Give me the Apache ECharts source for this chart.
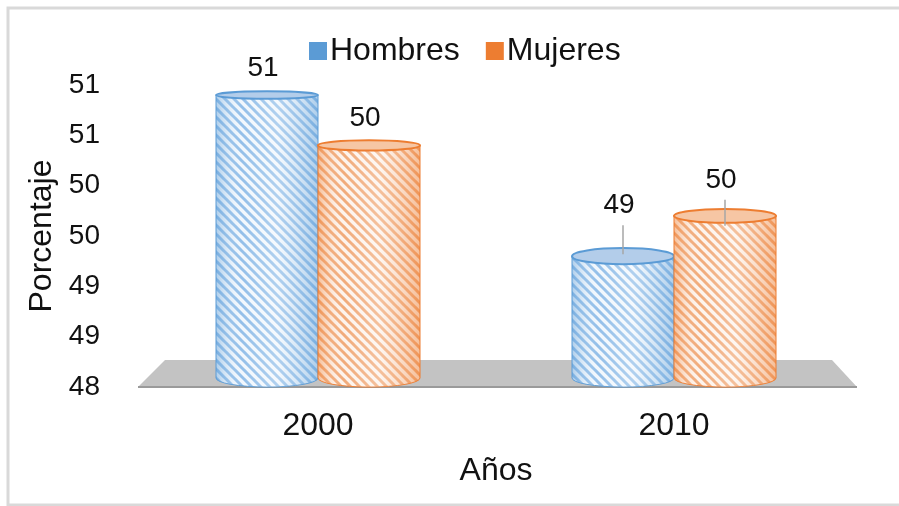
<!DOCTYPE html>
<html>
<head>
<meta charset="utf-8">
<script src="https://cdn.jsdelivr.net/npm/echarts@6/dist/echarts.min.js"></script>
<style>
  html, body { margin: 0; padding: 0; background: #fff; }
  #chart { width: 899px; height: 506px; }
</style>
</head>
<body>
<div id="chart"></div>
<script>
// datos
const years = ['2000', '2010']
const hombres = [50.9, 49.3]
const mujeres = [50.4, 49.7]
const yTicks = { min: 48, max: 51, step: 0.5 }

const FONT = 'Liberation Sans, Arial, sans-serif'

// textura de rayas diagonales
function stripes(bg, line) {
  const n = 9
  const c = document.createElement('canvas')
  c.width = n
  c.height = n
  const ctx = c.getContext('2d')
  ctx.fillStyle = bg
  ctx.fillRect(0, 0, n, n)
  ctx.strokeStyle = line
  ctx.lineWidth = 3
  for (let k = -2; k <= 2; k++) {
    ctx.beginPath()
    ctx.moveTo(k * n - 1, -1)
    ctx.lineTo(k * n + n + 1, n + 1)
    ctx.stroke()
  }
  return { image: c, repeat: 'repeat' }
}

const blue = {
  main: '#5b9bd5',
  fill: stripes('#f1f7fd', '#8ebce8'),
  top: '#b3cdea',
  edge: 'rgba(91,155,213,0.45)'
}
const orange = {
  main: '#ed7d31',
  fill: stripes('#fdf3ec', '#f0a673'),
  top: '#f6c6a4',
  edge: 'rgba(237,125,49,0.45)'
}

const BAR_W = 102

// cilindro para cada dato
function cylinder(pal, offset, lift) {
  return function (params, api) {
    const cs = params.coordSys
    // elipse más abierta cuanto más baja (perspectiva)
    const ryAt = y => 3.5 + (y - cs.y) / cs.height * 8
    const i = api.value(0)
    const v = api.value(1)
    const top = api.coord([i, v])
    const base = api.coord([i, yTicks.min])
    const cx = top[0] + offset
    const x0 = cx - BAR_W / 2
    const x1 = cx + BAR_W / 2
    const yT = top[1]
    const ryT = ryAt(yT)
    const ryB = 9
    const yB = base[1] - ryB
    const rx = BAR_W / 2
    const body = 'M' + x0 + ' ' + yT + ' L' + x0 + ' ' + yB +
      ' A' + rx + ' ' + ryB + ' 0 0 0 ' + x1 + ' ' + yB +
      ' L' + x1 + ' ' + yT + ' Z'
    const labelY = yT - lift[i]
    const children = [
      { type: 'path', shape: { pathData: body }, style: { fill: pal.fill, stroke: pal.main, lineWidth: 1 } },
      {
        type: 'path', shape: { pathData: body },
        style: {
          stroke: null,
          fill: {
            type: 'linear', x: 0, y: 0, x2: 1, y2: 0,
            colorStops: [
              { offset: 0, color: pal.edge },
              { offset: 0.25, color: 'rgba(255,255,255,0.05)' },
              { offset: 0.6, color: 'rgba(255,255,255,0.3)' },
              { offset: 1, color: pal.edge }
            ]
          }
        }
      },
      { type: 'ellipse', shape: { cx: cx, cy: yT, rx: rx, ry: ryT }, style: { fill: pal.top, stroke: pal.main, lineWidth: 2 } },
      {
        type: 'text',
        style: {
          x: cx - 4, y: labelY, text: String(Math.round(v)),
          fill: '#111', font: '28px ' + FONT, align: 'center', verticalAlign: 'middle'
        }
      }
    ]
    if (lift[i] > 30) {
      children.push({
        type: 'line',
        shape: { x1: cx, y1: labelY + 20, x2: cx, y2: yT + (lift[i] > 45 ? -2 : 10) },
        style: { stroke: '#a6a6a6', lineWidth: 1.5 }
      })
    }
    return { type: 'group', children: children }
  }
}

// piso gris
function floor(params, api) {
  const cs = params.coordSys
  const yF = cs.y + cs.height
  const yBk = yF - 27
  return {
    type: 'group',
    children: [
      {
        type: 'polygon',
        shape: { points: [[cs.x - 2, yF], [cs.x + 25, yBk], [cs.x + cs.width - 20, yBk], [cs.x + cs.width + 5, yF]] },
        style: { fill: '#c3c3c3' }
      },
      {
        type: 'line',
        shape: { x1: cs.x - 2, y1: yF, x2: cs.x + cs.width + 5, y2: yF },
        style: { stroke: '#9a9a9a', lineWidth: 2 }
      }
    ]
  }
}

const chart = echarts.init(document.getElementById('chart'), null, { renderer: 'canvas' })

chart.setOption({
  animation: false,
  textStyle: { fontFamily: FONT },
  graphic: [{
    type: 'rect', shape: { x: 8, y: 8, width: 900, height: 497 },
    style: { fill: null, stroke: '#d9d9d9', lineWidth: 3 }, z: -10
  }],
  legend: {
    left: 304,
    top: 30,
    itemWidth: 18,
    itemHeight: 18,
    itemGap: 26,
    textStyle: { fontSize: 32, color: '#111', fontFamily: FONT, padding: [0, 0, 0, -2] },
    data: [
      { name: 'Hombres', icon: 'rect', itemStyle: { color: blue.main } },
      { name: 'Mujeres', icon: 'rect', itemStyle: { color: orange.main } }
    ]
  },
  grid: { left: 140, right: 47, top: 85, bottom: 119 },
  xAxis: {
    type: 'category',
    data: years,
    name: 'Años',
    nameLocation: 'middle',
    nameGap: 68,
    nameTextStyle: { fontSize: 32, color: '#111' },
    axisLine: { show: false },
    axisTick: { show: false },
    axisLabel: { fontSize: 32, color: '#111', margin: 23 }
  },
  yAxis: {
    type: 'value',
    min: yTicks.min,
    max: yTicks.max,
    interval: yTicks.step,
    name: 'Porcentaje',
    nameLocation: 'middle',
    nameGap: 81,
    nameTextStyle: { fontSize: 32, color: '#111' },
    axisLine: { show: false },
    axisTick: { show: false },
    splitLine: { show: false },
    axisLabel: {
      fontSize: 28, color: '#111', margin: 40,
      formatter: v => String(Math.round(v))
    }
  },
  series: [
    {
      type: 'custom', name: 'piso', z: 1, silent: true,
      renderItem: floor, data: [[0, yTicks.min]]
    },
    {
      type: 'custom', name: 'Hombres', z: 3,
      renderItem: cylinder(blue, -BAR_W / 2, [27, 51]),
      data: years.map((y, i) => [i, hombres[i]])
    },
    {
      type: 'custom', name: 'Mujeres', z: 4,
      renderItem: cylinder(orange, BAR_W / 2, [27, 36]),
      data: years.map((y, i) => [i, mujeres[i]])
    }
  ]
})
</script>
</body>
</html>
